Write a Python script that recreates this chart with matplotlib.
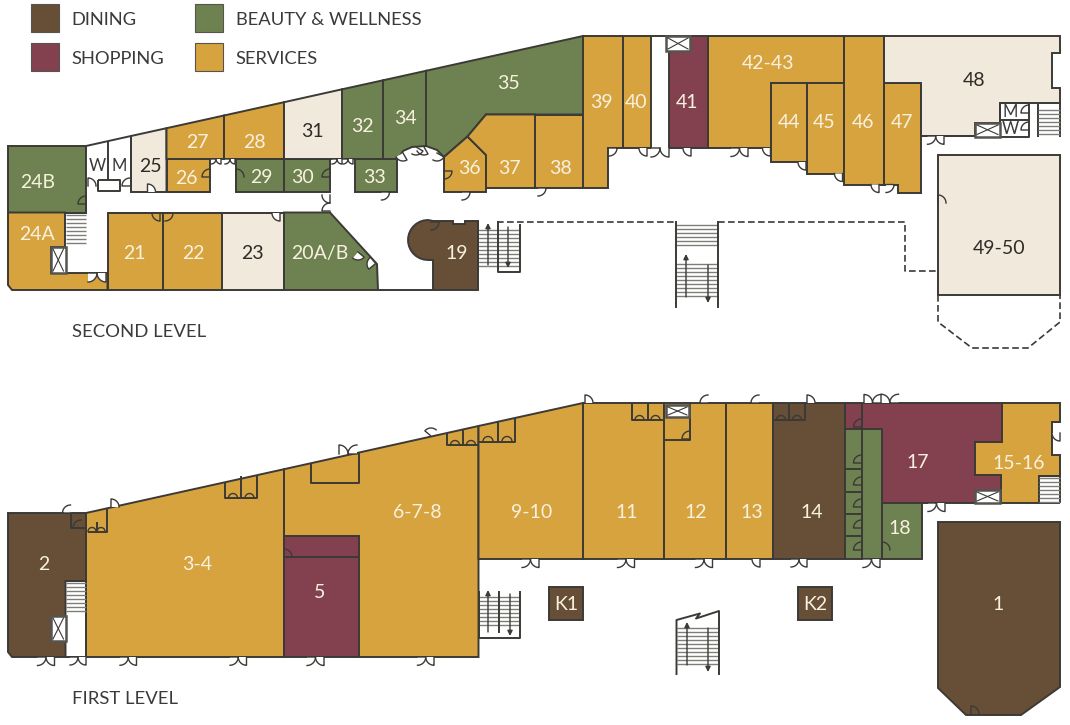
import numpy as np
import matplotlib
matplotlib.use("Agg")
import matplotlib.pyplot as plt
from matplotlib.patches import Polygon, Rectangle

plt.rcParams['font.family'] = ['Lato', 'DejaVu Sans']

COLORS = {
    "dining": "#674f37",
    "shopping": "#834150",
    "beauty": "#6d8250",
    "services": "#d7a33f",
    "vacant": "#f1e9db",
}
LINE = "#3b3a36"
TEXT = "#3a3a3a"

legend_names = ["DINING", "SHOPPING", "BEAUTY & WELLNESS", "SERVICES"]
legend_keys = ["dining", "shopping", "beauty", "services"]
legend_pos = [(31, 4), (31, 43), (195, 4), (195, 43)]

# (label, category, outline in picture pixels, label position)
second_level = [
    ("24B", "beauty", [(8, 146), (86, 146), (86, 212.5), (8, 212.5)], (38, 181)),
    ("24A", "services", [(8, 212.5), (65, 212.5), (65, 247), (51, 247), (51, 273), (107.5, 273), (107.5, 290), (12, 290), (8, 285)], (37, 233)),
    ("21", "services", [(107.5, 212.5), (163, 212.5), (163, 290), (107.5, 290)], (134, 252)),
    ("22", "services", [(163, 212.5), (222, 212.5), (222, 290), (163, 290)], (193, 252)),
    ("23", "vacant", [(222, 212.5), (284, 212.5), (284, 290), (222, 290)], (252, 252)),
    ("20A/B", "beauty", [(284, 212.5), (330, 212.5), (377, 264), (378, 290), (284, 290)], (320, 252)),
    ("25", "vacant", [(131, 136), (166.5, 128.2), (166.5, 192), (131, 192)], (150, 165)),
    ("26", "services", [(166.5, 159), (210, 159), (210, 192), (166.5, 192)], (186, 177)),
    ("27", "services", [(166.5, 128.2), (224, 115.5), (224, 159), (166.5, 159)], (197, 141)),
    ("28", "services", [(224, 115.5), (284, 102.2), (284, 159), (224, 159)], (254, 141)),
    ("29", "beauty", [(236, 159), (284, 159), (284, 192), (236, 192)], (261, 176)),
    ("30", "beauty", [(284, 159), (330, 159), (330, 192), (284, 192)], (303, 176)),
    ("31", "vacant", [(284, 102.2), (342, 89.3), (342, 159), (284, 159)], (312, 130)),
    ("32", "beauty", [(342, 89.3), (383, 80.3), (383, 159), (342, 159)], (362, 125)),
    ("33", "beauty", [(355, 159), (397, 159), (397, 192), (355, 192)], (375, 176)),
    ("34", "beauty", [(383, 80.3), (426, 70.8), (426, 146), (412, 147), (403, 151), (398, 159), (383, 159)], (405, 117)),
    ("35", "beauty", [(426, 70.8), (583, 36), (583, 114.5), (486, 114.5), (467.5, 136.5), (444, 157), (437, 150), (426, 146)], (509, 82)),
    ("36", "services", [(444, 157), (467.5, 136.5), (486, 155), (486, 192), (444, 192)], (469, 167)),
    ("37", "services", [(467.5, 136.5), (486, 114.5), (535, 114.5), (535, 188), (486, 188), (486, 155)], (509, 167)),
    ("38", "services", [(535, 114.5), (583, 114.5), (583, 188), (535, 188)], (561, 167)),
    ("39", "services", [(583, 36), (622.5, 36), (622.5, 147.5), (608, 147.5), (608, 188), (583, 188)], (601, 101)),
    ("40", "services", [(622.5, 36), (651, 36), (651, 147.5), (622.5, 147.5)], (636, 101)),
    ("41", "shopping", [(669, 36), (708, 36), (708, 147.5), (669, 147.5)], (687, 101)),
    ("42-43", "services", [(708, 36), (844, 36), (844, 83), (771, 83), (771, 147.5), (708, 147.5)], (768, 62)),
    ("44", "services", [(771, 83), (807, 83), (807, 162), (771, 162)], (789, 121)),
    ("45", "services", [(807, 83), (844, 83), (844, 173.5), (807, 173.5)], (824, 121)),
    ("46", "services", [(844, 36), (884, 36), (884, 184.5), (844, 184.5)], (863, 121)),
    ("47", "services", [(884, 83), (921, 83), (921, 193), (898, 193), (898, 184.5), (884, 184.5)], (902, 121)),
    ("48", "vacant", [(884, 36), (1060, 36), (1060, 52.5), (1052, 52.5), (1052, 88), (1060, 88), (1060, 103), (1000, 103), (1000, 123), (975, 123), (975, 136), (921, 136), (921, 83), (884, 83)], (974, 79)),
    ("49-50", "vacant", [(938, 155), (1060, 155), (1060, 295), (938, 295)], (999, 247)),
]

first_level = [
    ("2", "dining", [(8, 513), (86, 513), (86, 581), (65.5, 581), (65.5, 657), (12, 657), (8, 652)], (44, 563)),
    ("3-4", "services", [(86, 513), (284, 469.2), (284, 657), (86, 657)], (197, 563)),
    ("5", "shopping", [(284, 536), (359, 536), (359, 657), (284, 657)], (320, 592)),
    ("6-7-8", "services", [(284, 469.2), (478.5, 426), (478.5, 657), (359, 657), (359, 536), (284, 536)], (417, 511)),
    ("9-10", "services", [(478.5, 426), (583, 403), (583, 559), (478.5, 559)], (532, 511)),
    ("11", "services", [(583, 403), (664, 403), (664, 559), (583, 559)], (627, 511)),
    ("12", "services", [(664, 403), (726, 403), (726, 559), (664, 559)], (696, 511)),
    ("13", "services", [(726, 403), (773, 403), (773, 559), (726, 559)], (752, 511)),
    ("14", "dining", [(773, 403), (845, 403), (845, 559), (773, 559)], (812, 511)),
    ("17", "shopping", [(845, 403), (1002, 403), (1002, 442), (975, 442), (975, 475), (1001, 475), (1001, 503), (882, 503), (882, 429), (845, 429)], (918, 461)),
    ("15-16", "services", [(1002, 403), (1060, 403), (1060, 422), (1052, 422), (1052, 455), (1060, 455), (1060, 476), (1039, 476), (1039, 503), (1001, 503), (1001, 475), (975, 475), (975, 442), (1002, 442)], (1019, 462)),
    ("18", "beauty", [(845, 429), (882, 429), (882, 503), (921.5, 503), (921.5, 559), (845, 559)], (900, 528)),
    ("1", "dining", [(938, 522), (1060, 522), (1060, 687), (1021, 715), (966, 715), (938, 688)], (998, 603)),
    ("K1", "dining", [(549, 587), (583, 587), (583, 620), (549, 620)], (566, 604)),
    ("K2", "dining", [(798, 587), (832, 587), (832, 620), (798, 620)], (815, 604)),
]

level_names = [("SECOND LEVEL", 72, 331.5), ("FIRST LEVEL", 72, 699.5)]
small_labels = [("W", 97, 166), ("M", 119, 166), ("M", 1010, 112), ("W", 1010, 129)]

walls = [
    [(86, 146), (131, 136)], [(108, 141), (108, 180)], [(131, 136), (131, 192)],
    [(98, 180), (119.5, 180), (119.5, 191), (98, 191), (98, 180)],
    [(86, 197), (86, 212.5)], [(108, 212.5), (284, 212.5)], [(378, 290), (433, 290)],
    [(166.5, 192), (210, 192)], [(1000, 103), (1029, 103), (1029, 136.5), (1000, 136.5), (1000, 103)],
    [(1000, 120), (1029, 120)], [(1038, 103), (1038, 137)], [(1060, 103), (1060, 137)],
    [(921, 136), (975, 136)], [(651, 36), (669, 36)],
    # first level back rooms
    [(310.5, 463), (310.5, 482.5), (359, 482.5), (359, 453)],
    [(225, 482), (225, 498), (257, 498), (257, 476)], [(241, 476), (241, 498)],
    [(447, 433), (447, 445), (478, 445)], [(463, 430), (463, 445)],
    [(479, 441.5), (515, 441.5), (515, 418)], [(497.5, 422), (497.5, 441.5)],
    [(70.5, 513), (70.5, 528), (86, 528)], [(88, 531.5), (106.5, 531.5), (106.5, 509)], [(96.5, 522), (96.5, 531.5)],
    [(284, 557), (359, 557)],
    [(631.5, 403), (631.5, 420), (664, 420)], [(647.5, 403), (647.5, 420)],
    [(664, 440), (690, 440), (690, 403)],
    [(773, 420), (804.5, 420), (804.5, 403)], [(789, 403), (789, 420)],
    [(862, 403), (862, 559)], [(882, 503), (882, 559)],
    [(845, 469), (862, 469)], [(845, 491.5), (862, 491.5)], [(845, 514), (862, 514)], [(845, 535.5), (862, 535.5)],
    [(1039, 476), (1060, 476), (1060, 503)], [(1039, 503), (1060, 503)],
    [(65.5, 581), (86, 581)], [(86, 581), (86, 657)], [(65.5, 657), (86, 657)],
]
dashed = [
    [(497, 222), (676, 222)], [(718, 222), (905, 222), (905, 271), (938, 271)],
    [(938, 295), (938, 322), (972, 348), (1028, 348), (1060, 322), (1060, 295)],
]
stair_walls = [
    [(478, 222), (478, 272)], [(498, 222), (498, 272), (520, 272), (520, 225)],
    [(676, 222), (676, 307)], [(718, 222), (718, 307)],
    [(65, 213), (86, 213)],
    [(676.5, 674), (676.5, 620), (700, 613.5), (696, 618.5), (719, 611), (719, 674)],
    [(478.5, 592), (478.5, 638), (520, 638), (520, 592)], [(499, 592), (499, 632)],
]
# x0, x1, y0, y1 of the tread blocks
stair_treads = [
    (478, 520, 230, 267), (676, 718, 225, 248), (676, 718, 264, 297),
    (66, 86, 215, 245), (1038, 1060, 110, 135),
    (677, 719, 628, 665), (479, 520, 597, 628), (66, 86, 583, 611), (1039, 1060, 478, 502),
]
# x, y from, y to
stair_arrows = [
    (488, 265, 223), (508, 227, 268), (686, 297, 254), (708, 265, 303),
    (687, 665, 622), (708, 628, 672), (488, 632, 590), (510, 594, 636),
]
elevators = [
    (51, 247, 14.5, 26), (666, 36, 24, 15), (975, 123, 25, 13.5),
    (51, 616, 14.5, 25), (666, 405, 23, 12), (975, 490, 25, 13),
]
# x0, x1, y, side (+1 swings down, -1 swings up)
double_doors = [
    (37.5, 54.5, 657, 1), (70, 86, 657, 1), (120, 136.5, 657, 1), (230, 246.5, 657, 1),
    (307, 324, 657, 1), (417.5, 434, 657, 1), (522, 539, 559, 1), (617.5, 634.5, 559, 1),
    (695.5, 712.5, 559, 1), (791, 807, 559, 1), (863, 880, 559, 1),
    (864, 881, 403, -1), (881, 898.5, 403, -1), (339, 357, 454, -1),
    (88, 106, 273, 1), (211, 221, 159, 1), (225, 235, 159, 1), (332, 342, 159, 1), (343, 353, 159, 1),
    (651, 669, 148, 1), (731, 748, 148, 1), (927.5, 944, 136, 1), (928, 945, 503, 1),
]
# hinge x, hinge y, radius, start angle, end angle (angles clockwise on screen, 0 is right)
corridor_doors = [
    (585, 403, 8, -90, 0), (708, 403, 8, 180, 270), (759, 403, 8, 180, 270), (807, 403, 8, -90, 0),
    (760, 559, 8, 90, 180), (70.5, 513, 8, 180, 270), (111, 507, 8, -90, 0), (431, 436, 8, 220, 310),
    (88, 186, 8, -90, 0), (130, 186, 8, 180, 270), (147.5, 192, 8, -90, 0),
    (381.5, 192, 8, 0, 90), (462, 192, 8, 0, 90), (538, 188, 8, 0, 90),
    (609, 148, 8, 0, 90), (647, 148, 8, 90, 180), (691, 148, 8, 90, 180), (770.5, 148, 8, 90, 180),
    (806, 162, 8, 90, 180), (842.5, 173.5, 8, 90, 180), (879, 184.5, 8, 90, 180), (886, 184.5, 8, 0, 90),
    (330, 195, 8, 90, 180), (330, 211, 8, 180, 270),
    (403, 153, 8, 60, 150), (416, 147, 8, 30, 120), (424, 147, 8, 60, 150), (437, 153, 8, 30, 120),
    (280, 213, 8, 90, 180), (358, 252, 8, 40, 130), (375, 264, 8, 140, 230),
    (1060, 433, 8, 90, 180),
]
room_doors = [
    (86, 204, 8, 180, 270), (210, 177, 8, 180, 270), (236, 177, 8, -90, 0), (330, 177, 8, 180, 270),
    (160, 213, 8, 90, 180), (165, 213, 8, 0, 90), (431, 222, 8, 0, 90), (444, 171, 8, 0, 90),
    (938, 203, 8, -90, 0), (1029, 113, 8, 180, 270), (1029, 130, 8, 180, 270),
    (861.5, 427, 8, 180, 270), (861.5, 463, 8, 180, 270), (861.5, 485, 8, 180, 270),
    (861.5, 507, 8, 180, 270), (861.5, 528, 8, 180, 270), (861.5, 550, 8, 180, 270), (882, 550, 8, -90, 0),
    (284, 557, 8, -90, 0), (690, 439, 8, 180, 270), (971, 714, 8, -90, 0),
    (81, 528, 8, 180, 270),
]
# small arcs beside the middle post of the rear entrances: centre x, y, radius
vestibule_arcs = [
    (92, 531.5, 4), (101, 531.5, 4), (233, 498, 4.5), (249.5, 498, 4.5),
    (455, 445, 4.5), (471, 445, 4.5), (488, 441.5, 5), (507, 441.5, 5),
    (639.5, 420, 4.5), (655.5, 420, 4.5), (781, 420, 4.5), (797, 420, 4.5),
]


def arc_points(cx, cy, r, a0, a1):
    t = np.radians(np.linspace(a0, a1, 16))
    return cx + r * np.cos(t), cy + r * np.sin(t)


def draw_door(ax, cx, cy, r, a0, a1, filled=True):
    xs, ys = arc_points(cx, cy, r, a0, a1)
    if filled:
        ax.fill(np.r_[cx, xs], np.r_[cy, ys], color="white", lw=0, zorder=4)
    ax.plot(np.r_[cx, xs], np.r_[cy, ys], color=LINE, lw=1.0, zorder=5)


fig = plt.figure(figsize=(10.7, 7.25), dpi=100)
ax = fig.add_axes([0, 0, 1, 1])
ax.set_xlim(0, 1070)
ax.set_ylim(725, 0)
ax.axis("off")

# half round front of unit 19 goes under its outline
xs, ys = arc_points(428, 240, 20, 90, 270)
unit_19 = [(433, 290), (478, 290), (478, 221), (465, 221), (465, 224), (453, 224), (453, 221), (433, 221), (428, 220)] + list(zip(xs[::-1][1:], ys[::-1][1:])) + [(433, 260)]
rooms = second_level + first_level + [("19", "dining", unit_19, (457, 252))]

for name, key, outline, pos in rooms:
    ax.add_patch(Polygon(outline, closed=True, fc=COLORS[key], ec=LINE, lw=1.4, zorder=2, joinstyle="miter"))
    color = "#2f2b26" if key == "vacant" else "#f8f1df"
    ax.text(pos[0], pos[1] + 1, name, color=color, fontsize=14, ha="center", va="center", zorder=7)

for line in walls:
    ax.plot(*zip(*line), color=LINE, lw=1.4, zorder=3, solid_capstyle="butt")
for line in dashed:
    ax.plot(*zip(*line), color=LINE, lw=1.2, ls=(0, (4, 2)), zorder=3)
for x0, x1, y0, y1 in stair_treads:
    ax.hlines(np.arange(y0, y1 + 0.1, 4), x0, x1, color="#7d7d79", lw=1.0, zorder=3)
for line in stair_walls:
    ax.plot(*zip(*line), color=LINE, lw=1.4, zorder=3)
for x, y0, y1 in stair_arrows:
    ax.annotate("", xy=(x, y1), xytext=(x, y0), zorder=4,
                arrowprops=dict(arrowstyle="-|>,head_width=0.15,head_length=0.3", color=LINE, lw=1.0, shrinkA=0, shrinkB=0))
for x, y, w, h in elevators:
    ax.add_patch(Rectangle((x, y), w, h, fc="white", ec="#55544f", lw=1.8, zorder=4))
    ax.plot([x + 2, x + w - 2], [y + 2, y + h - 2], color=LINE, lw=0.8, zorder=5)
    ax.plot([x + 2, x + w - 2], [y + h - 2, y + 2], color=LINE, lw=0.8, zorder=5)
for x0, x1, y, side in double_doors:
    r = (x1 - x0) / 2
    if side > 0:
        draw_door(ax, x0, y, r, 0, 90)
        draw_door(ax, x1, y, r, 90, 180)
    else:
        draw_door(ax, x0, y, r, -90, 0)
        draw_door(ax, x1, y, r, 180, 270)
for door in corridor_doors:
    draw_door(ax, *door)
for door in room_doors:
    draw_door(ax, *door, filled=False)
for cx, y, r in vestibule_arcs:
    ax.plot(*arc_points(cx, y, r, 180, 360), color=LINE, lw=1.0, zorder=5)

for name, key, (x, y) in zip(legend_names, legend_keys, legend_pos):
    ax.add_patch(Rectangle((x, y), 28, 28, fc=COLORS[key], ec="#55544f", lw=0.8, zorder=2))
    ax.text(x + 40.5, y + 15.5, name, color=TEXT, fontsize=13.2, ha="left", va="center")
for name, x, y in level_names:
    ax.text(x, y, name, color=TEXT, fontsize=13.3, ha="left", va="center")
for name, x, y in small_labels:
    ax.text(x, y, name, color=TEXT, fontsize=12, ha="center", va="center", zorder=7)

fig.savefig("out.png", dpi=100, facecolor="white")
